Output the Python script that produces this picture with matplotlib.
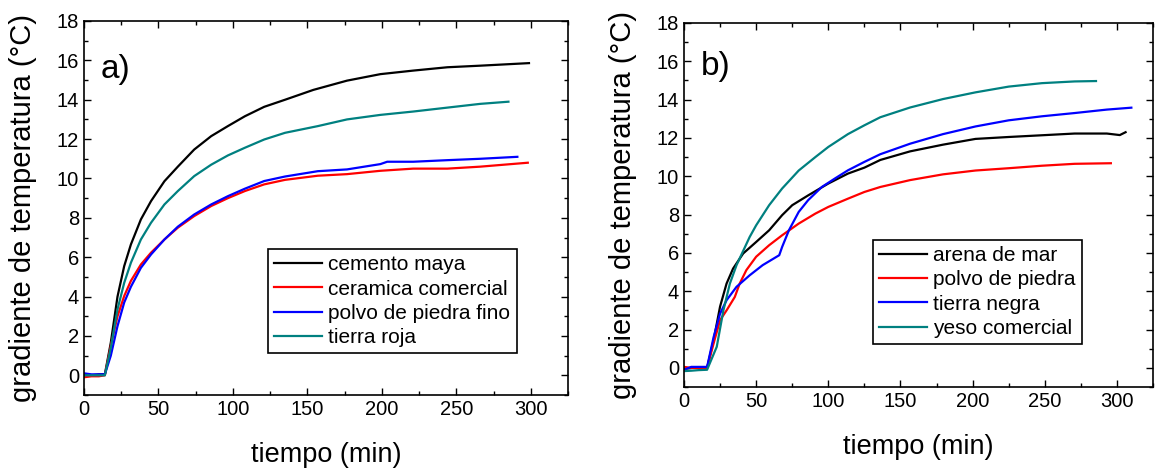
import matplotlib
matplotlib.use("Agg")
import matplotlib.pyplot as plt
from matplotlib.ticker import MultipleLocator

plt.rcParams['font.family'] = ['Liberation Sans', 'DejaVu Sans']

# ---- panel a) ----
t_cemento = [0, 5, 10, 14, 18, 22.5, 27, 31.5, 38.2, 45, 54, 63, 74, 85.4, 96.6, 108, 121, 135,
             154, 176.6, 199, 221, 244, 266, 298.8]
v_cemento = [0.05, 0.0, 0.05, 0.05, 1.66, 4.0, 5.55, 6.65, 7.92, 8.85, 9.86, 10.6, 11.47, 12.15,
             12.66, 13.16, 13.64, 14.0, 14.5, 14.97, 15.3, 15.48, 15.65, 15.73, 15.86]

t_ceramica = [0, 5, 10, 14, 18, 22.5, 27, 31.5, 38.2, 45, 54, 63, 74, 85.4, 96.6, 108, 121, 135,
              157, 176.6, 199, 221, 244, 266, 298]
v_ceramica = [-0.1, -0.05, -0.05, 0.0, 1.5, 3.0, 4.03, 4.8, 5.63, 6.23, 6.9, 7.5, 8.09, 8.6, 9.0,
              9.36, 9.7, 9.93, 10.14, 10.22, 10.39, 10.5, 10.5, 10.6, 10.8]

t_polvo_fino = [0, 5, 10, 14, 18, 22.5, 27, 31.5, 38.2, 45, 54, 63, 74, 85.4, 96.6, 108, 121, 135,
                157, 176.6, 199, 203.6, 221, 244, 266, 291]
v_polvo_fino = [0.1, 0.05, 0.05, 0.05, 1.0, 2.5, 3.7, 4.5, 5.46, 6.14, 6.9, 7.55, 8.17, 8.68, 9.1,
                9.48, 9.87, 10.1, 10.37, 10.46, 10.73, 10.85, 10.85, 10.93, 11.0, 11.1]

t_tierra_roja = [0, 5, 10, 14, 18, 22.5, 27, 31.5, 38.2, 45, 54, 63, 74, 85.4, 96.6, 108, 121, 135,
                 157, 176.6, 199, 221, 244, 266, 285]
v_tierra_roja = [0.0, 0.0, 0.0, 0.0, 1.4, 3.35, 4.7, 5.72, 6.9, 7.75, 8.68, 9.36, 10.12, 10.7, 11.17,
                 11.56, 11.98, 12.32, 12.66, 13.0, 13.23, 13.4, 13.6, 13.79, 13.9]

# ---- panel b) ----
t_arena = [0, 5, 10, 16, 20.5, 25, 29.5, 34, 41, 50, 59, 68, 75, 86, 100, 113.6, 125, 136,
           156.7, 179.5, 202, 225, 248, 270.7, 293, 302, 306]
v_arena = [-0.05, 0.0, 0.0, 0.0, 1.44, 3.2, 4.4, 5.18, 5.97, 6.57, 7.18, 7.97, 8.49, 9.0, 9.62,
           10.14, 10.45, 10.85, 11.3, 11.65, 11.95, 12.05, 12.14, 12.23, 12.23, 12.15, 12.3]

t_polvo = [0, 5, 10, 16, 20.5, 25, 29.5, 35.2, 38.6, 43.2, 50, 59, 68, 79.5, 91, 100, 113.6, 125,
           136, 156.7, 179.5, 202, 225, 248, 270.7, 295.8]
v_polvo = [0.05, 0.0, 0.0, 0.0, 1.27, 2.49, 3.0, 3.7, 4.4, 5.1, 5.8, 6.4, 6.92, 7.53, 8.05, 8.4,
           8.83, 9.18, 9.44, 9.8, 10.1, 10.3, 10.42, 10.55, 10.65, 10.68]

t_tierra_negra = [0, 5, 10, 16, 20.5, 25, 29.5, 36.4, 45.5, 54.5, 66, 68, 72.7, 79.5, 86, 95.5,
                  104.5, 113.6, 125, 136, 156.7, 179.5, 202, 225, 248, 270.7, 293, 310]
v_tierra_negra = [-0.1, 0.05, 0.05, 0.05, 1.6, 2.83, 3.53, 4.23, 4.83, 5.36, 5.88, 6.31, 7.18,
                  8.14, 8.75, 9.44, 9.88, 10.31, 10.75, 11.15, 11.7, 12.2, 12.6, 12.92, 13.13,
                  13.3, 13.48, 13.58]

t_yeso = [0, 5, 10, 16, 22.7, 27.3, 31.8, 36.4, 45.5, 50, 59, 68, 79.5, 91, 100, 113.6, 125, 136,
          156.7, 179.5, 202, 225, 248, 270.7, 285.5]
v_yeso = [-0.17, -0.15, -0.12, -0.1, 1.1, 3.0, 4.4, 5.36, 6.83, 7.44, 8.49, 9.36, 10.3, 11.0,
          11.53, 12.2, 12.66, 13.08, 13.59, 14.03, 14.38, 14.68, 14.86, 14.95, 14.97]

series_a = [(t_cemento, v_cemento, 'black', 'cemento maya'),
            (t_ceramica, v_ceramica, 'red', 'ceramica comercial'),
            (t_polvo_fino, v_polvo_fino, 'blue', 'polvo de piedra fino'),
            (t_tierra_roja, v_tierra_roja, '#008080', 'tierra roja')]
series_b = [(t_arena, v_arena, 'black', 'arena de mar'),
            (t_polvo, v_polvo, 'red', 'polvo de piedra'),
            (t_tierra_negra, v_tierra_negra, 'blue', 'tierra negra'),
            (t_yeso, v_yeso, '#008080', 'yeso comercial')]

fig = plt.figure(figsize=(11.55, 4.70), dpi=100)
ax_a = fig.add_axes([84 / 1155, 75 / 470, 484 / 1155, 374 / 470])
ax_b = fig.add_axes([684 / 1155, 83 / 470, 469 / 1155, 364 / 470])


def style_axes(ax, series, tag, leg_pos, label_y):
    for t, v, c, name in series:
        ax.plot(t, v, color=c, lw=1.6, label=name)
    ax.set_xlim(0, 325)
    ax.set_ylim(-1, 18)
    ax.xaxis.set_major_locator(MultipleLocator(50))
    ax.xaxis.set_minor_locator(MultipleLocator(25))
    ax.yaxis.set_major_locator(MultipleLocator(2))
    ax.yaxis.set_minor_locator(MultipleLocator(1))
    ax.tick_params(which='both', direction='in', top=True, right=True, labelsize=14.5, width=1)
    ax.tick_params(which='major', length=5)
    ax.tick_params(which='minor', length=3)
    for sp in ax.spines.values():
        sp.set_linewidth(1.2)
    ax.set_xlabel('tiempo (min)', fontsize=19.5, labelpad=17)
    ax.set_ylabel('gradiente de temperatura (°C)', fontsize=21, labelpad=14)
    ax.text(0.035, label_y, tag, transform=ax.transAxes, fontsize=24, va='center', ha='left')
    leg = ax.legend(loc='upper left', bbox_to_anchor=leg_pos, borderaxespad=0, fontsize=15,
                    frameon=True, fancybox=False, framealpha=1, edgecolor='black',
                    handlelength=2.3, handletextpad=0.3, labelspacing=0.25, borderpad=0.3)
    leg.get_frame().set_linewidth(1.2)


style_axes(ax_a, series_a, 'a)', (0.380, 0.390), 0.87)
style_axes(ax_b, series_b, 'b)', (0.403, 0.404), 0.88)

fig.savefig('out.png', dpi=100)
